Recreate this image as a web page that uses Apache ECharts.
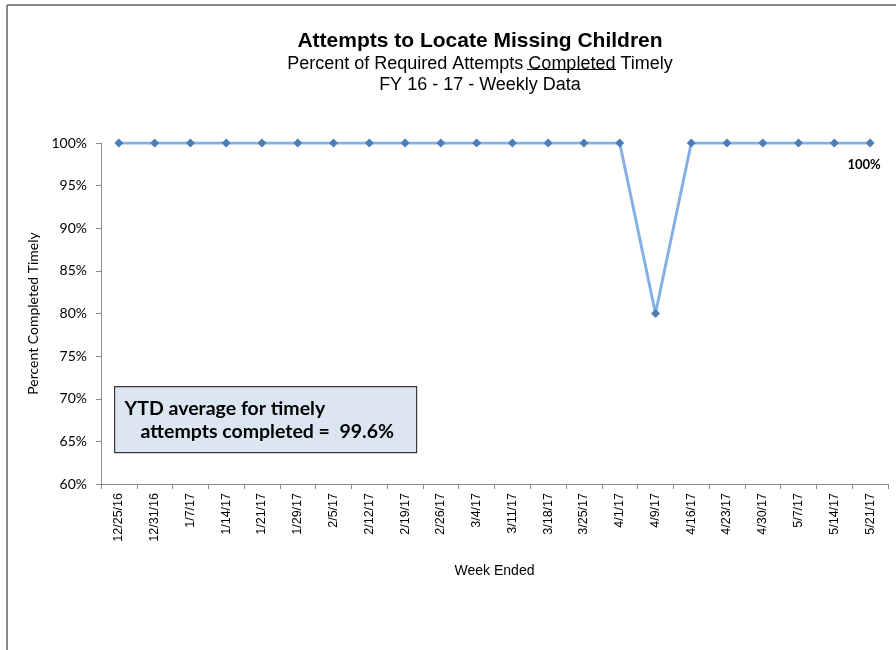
<!DOCTYPE html>
<html>
<head>
<meta charset="utf-8">
<script src="https://cdn.jsdelivr.net/npm/echarts@6/dist/echarts.min.js"></script>
<style>
  html, body { margin: 0; padding: 0; background: #fff; }
  #chart { width: 896px; height: 650px; }
</style>
</head>
<body>
<div id="chart"></div>
<script>
const weeks = ['12/25/16', '12/31/16', '1/7/17', '1/14/17', '1/21/17', '1/29/17', '2/5/17', '2/12/17',
  '2/19/17', '2/26/17', '3/4/17', '3/11/17', '3/18/17', '3/25/17', '4/1/17', '4/9/17', '4/16/17',
  '4/23/17', '4/30/17', '5/7/17', '5/14/17', '5/21/17']
const pctTimely = [100, 100, 100, 100, 100, 100, 100, 100, 100, 100, 100, 100, 100, 100, 100, 80, 100,
  100, 100, 100, 100, 100]
const ytdAverage = '99.6%'

const calibri = 'Lato, "Open Sans", sans-serif'
const arial = '"Liberation Sans", Arial, sans-serif'

const chart = echarts.init(document.getElementById('chart'))
const option = {
  animation: false,
  title: [
    {
      text: 'Attempts to Locate Missing Children',
      left: 475, top: 26, textAlign: 'center',
      textStyle: { fontFamily: arial, fontSize: 21, fontWeight: 'bold', color: '#000' }
    },
    {
      text: 'Percent of Required Attempts Completed Timely',
      left: 475, top: 50, textAlign: 'center',
      textStyle: { fontFamily: arial, fontSize: 18, fontWeight: 'normal', color: '#000' }
    },
    {
      text: 'FY 16 - 17 - Weekly Data',
      left: 475, top: 71, textAlign: 'center',
      textStyle: { fontFamily: arial, fontSize: 18, fontWeight: 'normal', color: '#000' }
    }
  ],
  grid: { left: 101, right: 8, top: 143, bottom: 166 },
  xAxis: {
    type: 'category',
    data: weeks,
    boundaryGap: true,
    name: 'Week Ended',
    nameLocation: 'middle',
    nameGap: 80,
    nameTextStyle: { fontFamily: arial, fontSize: 14, color: '#000' },
    axisLine: { lineStyle: { color: '#8c8c8c', width: 1 } },
    axisTick: { show: true, alignWithLabel: false, length: 5, lineStyle: { color: '#8c8c8c' } },
    axisLabel: { rotate: 90, interval: 0, fontFamily: arial, fontSize: 12.5, color: '#000', margin: 9 },
    splitLine: { show: false }
  },
  yAxis: {
    type: 'value',
    min: 60, max: 100, interval: 5,
    name: 'Percent Completed Timely',
    nameLocation: 'middle',
    nameRotate: 90,
    nameGap: 59,
    nameTextStyle: { fontFamily: calibri, fontSize: 14, color: '#000' },
    axisLine: { show: true, lineStyle: { color: '#8c8c8c', width: 1 } },
    axisTick: { show: true, length: 5, lineStyle: { color: '#8c8c8c' } },
    axisLabel: { formatter: '{value}%', fontFamily: calibri, fontSize: 14, color: '#000', margin: 14 },
    splitLine: { show: false }
  },
  series: [
    {
      type: 'line',
      data: pctTimely.map((v, i) => i === pctTimely.length - 1
        ? { value: v, label: { show: true } }
        : v),
      symbol: 'diamond',
      symbolSize: 9,
      itemStyle: { color: '#4a7ebb' },
      lineStyle: { color: '#86afe3', width: 3 },
      label: {
        show: false,
        position: 'bottom',
        distance: 11,
        offset: [-6, 0],
        formatter: (p) => p.value + '%',
        fontFamily: calibri, fontSize: 13, fontWeight: 'bold', color: '#000'
      }
    }
  ],
  graphic: [
    // outer frame lines
    { type: 'line', shape: { x1: 7, y1: 5, x2: 896, y2: 5 }, style: { stroke: '#8a8a8a', lineWidth: 2 } },
    { type: 'line', shape: { x1: 7, y1: 5, x2: 7, y2: 650 }, style: { stroke: '#8a8a8a', lineWidth: 2 } },
    // underline under "Completed"
    { type: 'line', shape: { x1: 527, y1: 69.5, x2: 616, y2: 69.5 }, style: { stroke: '#000', lineWidth: 1 } },
    {
      type: 'group',
      left: 114, top: 386,
      children: [
        {
          type: 'rect',
          shape: { x: 0, y: 0, width: 302, height: 66 },
          style: { fill: '#dce6f2', stroke: '#3a3a3a', lineWidth: 1.2 }
        },
        {
          type: 'text', x: 10, y: 12,
          style: {
            text: 'YTD average for timely',
            font: 'bold 19.5px ' + calibri, fill: '#000'
          }
        },
        {
          type: 'text', x: 26, y: 35,
          style: {
            text: 'attempts completed =  ' + ytdAverage,
            font: 'bold 19.5px ' + calibri, fill: '#000'
          }
        }
      ]
    }
  ]
}
chart.setOption(option)
</script>
</body>
</html>
